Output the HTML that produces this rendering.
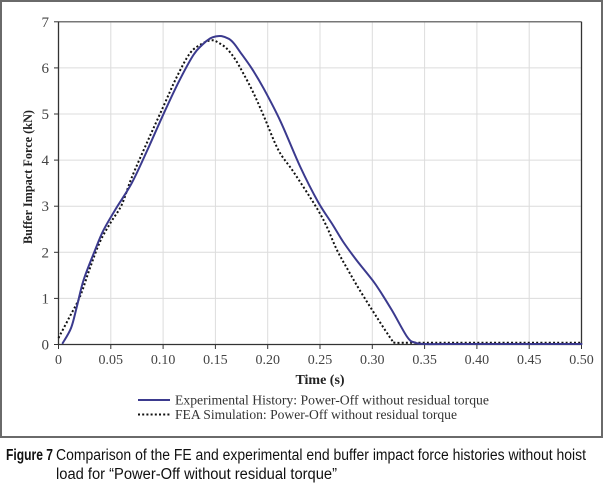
<!DOCTYPE html>
<html>
<head>
<meta charset="utf-8">
<style>
html,body{margin:0;padding:0;background:#fff;}
body{width:603px;height:497px;overflow:hidden;}
svg{display:block;}
</style>
</head>
<body>
<svg id="chart" width="603" height="497" viewBox="0 0 603 497" xmlns="http://www.w3.org/2000/svg">
  <rect x="0" y="0" width="603" height="497" fill="#fff"/>
  <!-- outer frame -->
  <rect x="1" y="1" width="601" height="436" fill="none" stroke="#6a6a6a" stroke-width="2"/>

  <!-- grid -->
  <g stroke="#dcdcdc" stroke-width="1">
    <line x1="110.8" y1="21.8" x2="110.8" y2="344.5"/>
    <line x1="163.1" y1="21.8" x2="163.1" y2="344.5"/>
    <line x1="215.4" y1="21.8" x2="215.4" y2="344.5"/>
    <line x1="267.7" y1="21.8" x2="267.7" y2="344.5"/>
    <line x1="320.0" y1="21.8" x2="320.0" y2="344.5"/>
    <line x1="372.3" y1="21.8" x2="372.3" y2="344.5"/>
    <line x1="424.6" y1="21.8" x2="424.6" y2="344.5"/>
    <line x1="476.9" y1="21.8" x2="476.9" y2="344.5"/>
    <line x1="529.2" y1="21.8" x2="529.2" y2="344.5"/>
    <line x1="58.5" y1="298.4" x2="581.5" y2="298.4"/>
    <line x1="58.5" y1="252.3" x2="581.5" y2="252.3"/>
    <line x1="58.5" y1="206.2" x2="581.5" y2="206.2"/>
    <line x1="58.5" y1="160.1" x2="581.5" y2="160.1"/>
    <line x1="58.5" y1="114.0" x2="581.5" y2="114.0"/>
    <line x1="58.5" y1="67.9" x2="581.5" y2="67.9"/>
  </g>

  <!-- plot border -->
  <line x1="58.5" y1="21.8" x2="581.5" y2="21.8" stroke="#777" stroke-width="1.5"/>
  <line x1="581.5" y1="21.8" x2="581.5" y2="344.5" stroke="#333" stroke-width="1.3"/>
  <line x1="58.5" y1="21.8" x2="58.5" y2="344.5" stroke="#333" stroke-width="1.3"/>
  <line x1="58.5" y1="344.5" x2="581.5" y2="344.5" stroke="#333" stroke-width="1.3"/>

  <!-- y ticks -->
  <g stroke="#333" stroke-width="1">
    <line x1="54" y1="344.5" x2="58.5" y2="344.5"/>
    <line x1="54" y1="298.4" x2="58.5" y2="298.4"/>
    <line x1="54" y1="252.3" x2="58.5" y2="252.3"/>
    <line x1="54" y1="206.2" x2="58.5" y2="206.2"/>
    <line x1="54" y1="160.1" x2="58.5" y2="160.1"/>
    <line x1="54" y1="114.0" x2="58.5" y2="114.0"/>
    <line x1="54" y1="67.9" x2="58.5" y2="67.9"/>
    <line x1="54" y1="21.8" x2="58.5" y2="21.8"/>
  </g>
  <!-- x ticks -->
  <g stroke="#333" stroke-width="1">
    <line x1="58.5" y1="344.5" x2="58.5" y2="349"/>
    <line x1="110.8" y1="344.5" x2="110.8" y2="349"/>
    <line x1="163.1" y1="344.5" x2="163.1" y2="349"/>
    <line x1="215.4" y1="344.5" x2="215.4" y2="349"/>
    <line x1="267.7" y1="344.5" x2="267.7" y2="349"/>
    <line x1="320.0" y1="344.5" x2="320.0" y2="349"/>
    <line x1="372.3" y1="344.5" x2="372.3" y2="349"/>
    <line x1="424.6" y1="344.5" x2="424.6" y2="349"/>
    <line x1="476.9" y1="344.5" x2="476.9" y2="349"/>
    <line x1="529.2" y1="344.5" x2="529.2" y2="349"/>
    <line x1="581.5" y1="344.5" x2="581.5" y2="349"/>
  </g>

  <!-- y labels -->
  <g font-family="Liberation Serif, serif" font-size="15" fill="#444" text-anchor="end">
    <text x="49" y="349.5">0</text>
    <text x="49" y="303.4">1</text>
    <text x="49" y="257.3">2</text>
    <text x="49" y="211.2">3</text>
    <text x="49" y="165.1">4</text>
    <text x="49" y="119.0">5</text>
    <text x="49" y="72.9">6</text>
    <text x="49" y="26.8">7</text>
  </g>
  <!-- x labels -->
  <g font-family="Liberation Serif, serif" font-size="14" fill="#444" text-anchor="middle">
    <text x="58.5" y="364">0</text>
    <text x="110.8" y="364">0.05</text>
    <text x="163.1" y="364">0.10</text>
    <text x="215.4" y="364">0.15</text>
    <text x="267.7" y="364">0.20</text>
    <text x="320.0" y="364">0.25</text>
    <text x="372.3" y="364">0.30</text>
    <text x="424.6" y="364">0.35</text>
    <text x="476.9" y="364">0.40</text>
    <text x="529.2" y="364">0.45</text>
    <text x="581.5" y="364">0.50</text>
  </g>

  <!-- axis titles -->
  <text x="320" y="384" font-family="Liberation Serif, serif" font-size="14" font-weight="bold" fill="#222" text-anchor="middle">Time (s)</text>
  <text transform="translate(32,177) rotate(-90)" font-family="Liberation Serif, serif" font-size="13" font-weight="bold" fill="#222" text-anchor="middle" textLength="134" lengthAdjust="spacingAndGlyphs">Buffer Impact Force (kN)</text>

  <!-- FEA dotted -->
  <polyline class="smooth" fill="none" stroke="#111" stroke-width="2" stroke-dasharray="2,2.2" stroke-linejoin="round"
    points="58.5,338.0 69,318 80.0,296.6 90,268 100.0,241.7 111,222 121.7,204.8 131.7,177.6 147.4,141.7 163.1,107.1 176.7,77.1 190.0,53.2 201.8,43.9 211.7,40.2 219,43 226.7,48.5 235,59 243.3,73.4 253,92 263.3,114.9 278.3,149.9 293.3,171.6 314.8,204.8 326,225 336.7,249.5 348,270 359.7,290.1 376.5,316.8 391.7,339.9 395.3,342.7 420,342.7 581.5,342.7"/>

  <!-- Experimental solid -->
  <polyline class="smooth" fill="none" stroke="#3b3a8e" stroke-width="2" stroke-linejoin="round" stroke-linecap="round"
    points="62.7,343.1 71.1,327.9 77,306 83.6,280.0 95.1,250.0 103.5,230.2 116.0,208.5 131.7,183.2 147.4,150.0 163.1,114.9 178.8,81.7 193.4,55.0 202,45 210.2,38.4 216,36.4 221.7,36.1 229.0,38.9 234,43.5 240.0,51.8 252.0,68.8 263.5,88.2 280.3,120.9 300.1,166.5 317.9,201.6 332.6,224.6 343.3,242 356,259.5 366,272 376,285 391.7,309.9 407.3,337.1 415.2,342.7 424.6,344.0 450,344.0 581.5,344.0"/>

  <!-- legend -->
  <line x1="138" y1="400" x2="170" y2="400" stroke="#3b3a8e" stroke-width="2"/>
  <line x1="138" y1="414.5" x2="170" y2="414.5" stroke="#111" stroke-width="2" stroke-dasharray="2,2.2"/>
  <g font-family="Liberation Serif, serif" font-size="14" fill="#333">
    <text x="175" y="404.5" textLength="314" lengthAdjust="spacingAndGlyphs">Experimental History: Power-Off without residual torque</text>
    <text x="175" y="419" textLength="282" lengthAdjust="spacingAndGlyphs">FEA Simulation: Power-Off without residual torque</text>
  </g>

  <!-- caption -->
  <g font-family="Liberation Sans, sans-serif" font-size="15.5" fill="#111">
    <text x="6" y="460" font-weight="bold" textLength="47" lengthAdjust="spacingAndGlyphs">Figure 7</text>
    <text x="56" y="460" textLength="530" lengthAdjust="spacingAndGlyphs">Comparison of the FE and experimental end buffer impact force histories without hoist</text>
    <text x="56" y="479" textLength="281" lengthAdjust="spacingAndGlyphs">load for “Power-Off without residual torque”</text>
  </g>
</svg>
<script>
(function(){
  var svg=document.getElementById('chart');
  var pls=svg.querySelectorAll('polyline.smooth');
  for(var k=0;k<pls.length;k++){
    var pl=pls[k];
    var raw=pl.getAttribute('points').trim().split(/\s+/);
    var p=raw.map(function(s){var a=s.split(',');return [parseFloat(a[0]),parseFloat(a[1])];});
    var d='M'+p[0][0]+','+p[0][1];
    for(var i=0;i<p.length-1;i++){
      var p0=p[i>0?i-1:i],p1=p[i],p2=p[i+1],p3=p[i+2<p.length?i+2:i+1];
      var t=1/6;
      var c1x=p1[0]+(p2[0]-p0[0])*t,c1y=p1[1]+(p2[1]-p0[1])*t;
      var c2x=p2[0]-(p3[0]-p1[0])*t,c2y=p2[1]-(p3[1]-p1[1])*t;
      d+=' C'+c1x.toFixed(2)+','+c1y.toFixed(2)+' '+c2x.toFixed(2)+','+c2y.toFixed(2)+' '+p2[0]+','+p2[1];
    }
    var path=document.createElementNS('http://www.w3.org/2000/svg','path');
    for(var j=0;j<pl.attributes.length;j++){
      var at=pl.attributes[j];
      if(at.name!=='points'&&at.name!=='class') path.setAttribute(at.name,at.value);
    }
    path.setAttribute('d',d);
    pl.parentNode.replaceChild(path,pl);
  }
})();
</script>
</body>
</html>
